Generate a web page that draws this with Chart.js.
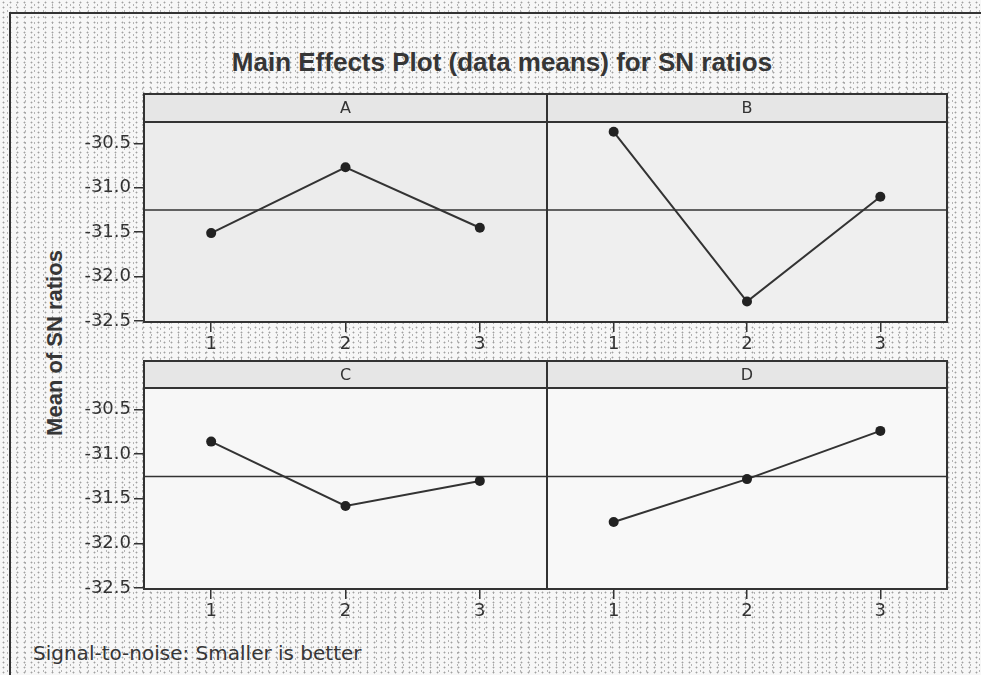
<!DOCTYPE html>
<html>
<head>
<meta charset="utf-8">
<script src="https://cdn.jsdelivr.net/npm/chart.js@4.4.1/dist/chart.umd.min.js"></script>
<style>
body { margin: 0; background: #fff; }
#wrap {
  position: relative; width: 981px; height: 675px; overflow: hidden;
  background-color: #f7f7f7;
  background-image:
    radial-gradient(circle, #a0a0a0 0.7px, transparent 1.2px),
    radial-gradient(circle, #b4b4b4 0.6px, transparent 1.1px);
  background-size: 7px 5px, 9px 6px;
  background-position: 0 0, 3px 2px;
}
#frame { position: absolute; left: 9px; top: 12px; right: -4px; bottom: -4px;
  border-left: 2px solid #333; border-top: 2px solid #333; }
canvas { position: absolute; }
.txt { position: absolute; color: #363636; white-space: nowrap; }
#title { left: 10px; width: 984px; top: 47px; line-height: 30px; text-align: center;
  font: bold 26px "Liberation Sans", sans-serif; }
#ylab { left: -45px; width: 200px; top: 330px; line-height: 26px; text-align: center;
  font: bold 22px "Liberation Sans", sans-serif; transform: rotate(-90deg); }
#foot { left: 33px; top: 641px; line-height: 24px; font: 20px "DejaVu Sans", sans-serif; }
</style>
</head>
<body>
<div id="wrap">
  <div id="frame"></div>
  <div class="txt" id="title">Main Effects Plot (data means) for SN ratios</div>
  <div class="txt" id="ylab">Mean of SN ratios</div>
  <canvas id="pA" width="512" height="264" style="left:40px;top:92px"></canvas>
  <canvas id="pB" width="410" height="264" style="left:542px;top:92px"></canvas>
  <canvas id="pC" width="512" height="264" style="left:40px;top:359px"></canvas>
  <canvas id="pD" width="410" height="264" style="left:542px;top:359px"></canvas>
  <div class="txt" id="foot">Signal-to-noise: Smaller is better</div>
</div>
<script>
// factor levels and the mean SN ratio at each level
var levels = ['1', '2', '3'];
var factorA = [-31.51, -30.77, -31.45];
var factorB = [-30.37, -32.28, -31.10];
var factorC = [-30.86, -31.58, -31.30];
var factorD = [-31.76, -31.28, -30.74];
var yTicks = [-32.5, -32.0, -31.5, -31.0, -30.5];
var yMin = -32.51, yMax = -30.26;

// overall mean, drawn as the reference line in every panel
var alle = factorA.concat(factorB, factorC, factorD);
var keski = alle.reduce(function (s, v) { return s + v; }, 0) / alle.length;

var ink = '#333333';

// header strip, panel background, mean line and frame
var paneeli = {
  id: 'paneeli',
  beforeDraw: function (chart, args, o) {
    var ctx = chart.ctx, a = chart.chartArea;
    ctx.save();
    ctx.fillStyle = o.strip;
    ctx.fillRect(a.left, a.top - o.stripH, a.right - a.left, o.stripH);
    ctx.fillStyle = o.bg;
    ctx.fillRect(a.left, a.top, a.right - a.left, a.bottom - a.top);
    ctx.restore();
  },
  beforeDatasetsDraw: function (chart, args, o) {
    var ctx = chart.ctx, a = chart.chartArea;
    var y = chart.scales.y.getPixelForValue(keski);
    ctx.save();
    ctx.strokeStyle = ink;
    ctx.lineWidth = 1.6;
    ctx.beginPath();
    ctx.moveTo(a.left, y);
    ctx.lineTo(a.right, y);
    ctx.stroke();
    ctx.restore();
  },
  afterDraw: function (chart, args, o) {
    var ctx = chart.ctx, a = chart.chartArea;
    ctx.save();
    ctx.strokeStyle = ink;
    ctx.lineWidth = 2;
    ctx.strokeRect(a.left, a.top - o.stripH, a.right - a.left, o.stripH);
    ctx.strokeRect(a.left, a.top, a.right - a.left, a.bottom - a.top);
    ctx.fillStyle = ink;
    ctx.font = '16px "DejaVu Sans"';
    ctx.textAlign = 'center';
    ctx.textBaseline = 'middle';
    ctx.fillText(o.label, (a.left + a.right) / 2, a.top - o.stripH / 2 + 1);
    ctx.restore();
  }
};

function piirra(id, nimi, arvot, vasen, stripH, padTop, bg) {
  return new Chart(document.getElementById(id), {
    type: 'line',
    data: {
      labels: levels,
      datasets: [{
        data: arvot,
        borderColor: ink,
        borderWidth: 2,
        pointRadius: 5,
        pointBackgroundColor: '#222',
        pointBorderWidth: 0,
        tension: 0,
        clip: false
      }]
    },
    options: {
      responsive: false,
      animation: false,
      events: [],
      layout: { padding: { top: padTop, left: vasen ? 0 : 2, right: vasen ? 2 : 4, bottom: 0 } },
      plugins: {
        legend: { display: false },
        tooltip: { enabled: false },
        paneeli: { label: nimi, strip: '#e6e6e6', stripH: stripH, bg: bg }
      },
      scales: {
        x: {
          type: 'category',
          offset: true,
          border: { display: false },
          grid: { drawOnChartArea: false, drawTicks: true, tickLength: 10, color: ink, lineWidth: 1.5, offset: false },
          ticks: { color: ink, padding: 2, font: { family: 'DejaVu Sans', size: 18 } },
          afterFit: function (s) { s.height = 34; }
        },
        y: {
          display: vasen,
          min: yMin,
          max: yMax,
          border: { display: false },
          grid: { drawOnChartArea: false, drawTicks: true, tickLength: 10, color: ink, lineWidth: 1.5 },
          ticks: {
            color: ink, padding: 3, font: { family: 'DejaVu Sans', size: 18 },
            callback: function (v) { return v.toFixed(1); }
          },
          afterBuildTicks: function (s) {
            s.ticks = yTicks.map(function (v) { return { value: v }; });
          },
          afterFit: function (s) { s.width = vasen ? 104 : 0; }
        }
      }
    },
    plugins: [paneeli]
  });
}

piirra('pA', 'A', factorA, true, 28, 30, '#ececec');
piirra('pB', 'B', factorB, false, 28, 30, '#efefef');
piirra('pC', 'C', factorC, true, 27, 29, '#f7f7f7');
piirra('pD', 'D', factorD, false, 27, 29, '#f8f8f8');
</script>
</body>
</html>
